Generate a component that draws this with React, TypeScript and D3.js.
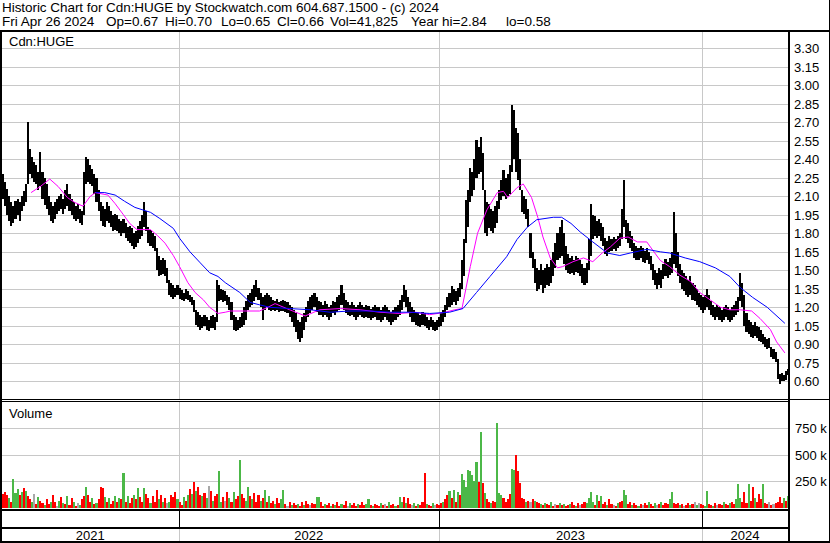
import * as d3 from "d3";

// ---- data ----
// one sample = 2 trading days, Apr 2021 .. Apr 26 2024
const priceHigh = [
  228,222,216,210,205,202,206,208,205,210, 214,220,270,248,242,238,235,230,246,230,
  225,220,210,205,202,205,208,210,212,208, 215,220,212,208,205,202,204,200,198,230,
  242,240,235,232,228,225,215,205,202,200, 205,202,198,195,196,195,192,190,192,188,
  185,186,184,180,182,186,190,195,205,198, 185,183,180,178,168,162,158,160,158,152,
  142,140,138,136,138,136,134,132,135,133, 130,128,126,118,116,114,112,114,112,110,
  113,114,112,142,138,135,134,133,130,128, 124,114,112,110,112,115,120,125,130,132,
  135,138,142,136,132,128,130,132,130,128, 126,125,127,124,125,126,125,124,122,120,
  118,115,110,108,112,115,120,125,128,130, 132,128,125,124,122,125,123,120,122,125,
  124,128,130,138,132,126,124,122,124,122, 120,122,124,122,120,122,121,119,120,122,
  120,120,118,120,122,120,118,116,118,120, 122,126,130,138,134,128,124,120,118,116,
  115,114,116,115,112,110,112,110,108,110, 112,115,118,122,128,132,137,135,133,136,
  140,158,175,207,215,233,230,240,256,250, 258,245,215,205,204,200,198,202,206,215,
  223,231,225,228,235,284,280,265,261,240, 215,210,208,200,180,165,159,152,150,155,
  150,152,155,153,158,165,172,180,185,191, 180,170,163,160,162,158,162,160,158,155,
  152,156,175,204,195,194,190,192,188,185, 176,174,178,175,177,175,178,180,200,223,
  191,188,182,178,172,170,168,170,168,166, 168,165,162,155,150,148,152,150,155,159,
  157,160,165,197,180,165,155,150,148,145, 142,145,140,138,135,132,130,128,130,135,
  130,125,122,120,122,120,118,120,122,120, 118,120,122,125,128,148,140,130,115,110,
  108,106,108,105,104,102,98,96,94,95, 88,86,84,78,66,67,65,68,70,
];
const priceLow = [
  208,202,195,190,186,188,192,195,190,198, 202,205,220,228,225,222,220,215,218,208,
  203,200,195,190,188,192,196,198,200,196, 200,202,198,195,192,190,192,188,187,195,
  220,222,220,218,212,205,198,190,186,185, 190,188,185,182,183,182,180,178,180,176,
  174,172,170,167,169,172,175,178,185,182, 172,170,168,166,150,145,146,147,145,140,
  130,128,127,128,130,127,126,125,127,126, 124,122,116,106,104,102,103,105,102,101,
  103,103,102,108,125,126,124,125,122,118, 110,102,101,102,103,104,106,110,118,120,
  122,125,128,126,120,110,118,120,118,117, 118,117,118,116,117,117,116,115,112,108,
  104,100,94,92,95,102,108,112,115,118, 120,116,114,114,112,114,112,110,112,115,
  114,116,118,122,118,115,114,113,114,112, 110,112,114,112,111,112,111,110,111,112,
  110,110,108,110,112,110,108,106,108,110, 112,114,118,124,120,116,112,108,108,106,
  105,104,106,105,103,102,104,102,101,102, 104,105,108,112,118,120,122,124,122,125,
  128,135,145,172,185,205,210,215,225,228, 230,215,180,178,184,182,180,184,188,200,
  207,210,208,210,212,230,240,230,223,215, 197,196,192,185,160,152,140,133,135,138,
  132,136,138,137,140,145,152,158,160,162, 155,150,148,147,148,146,149,148,145,140,
  138,140,150,162,175,178,176,178,174,170, 163,162,165,166,167,166,168,170,175,185,
  175,172,168,166,160,158,158,160,157,156, 158,155,150,142,138,135,138,136,143,145,
  144,146,148,155,152,145,140,135,133,130, 128,130,126,125,122,120,118,115,118,120,
  118,114,112,110,112,110,108,110,112,110, 108,110,112,114,116,125,120,105,100,98,
  96,95,97,95,93,92,90,88,86,87, 80,78,76,62,58,60,60,61,65,
];
// volume in thousands, per sample
const volumeK = [
  130,150,120,90,60,270,140,180,120,150, 190,160,110,80,60,130,40,100,70,50,
  30,80,40,60,120,60,20,70,100,50, 40,110,30,90,60,20,50,30,80,110,
  200,120,60,90,40,50,80,200,190,100, 60,90,40,70,110,60,90,80,330,60,
  110,50,90,120,80,190,100,60,190,130, 90,50,110,60,170,80,120,60,90,50,
  60,120,100,150,80,60,30,100,70,120, 180,130,240,160,200,120,110,140,90,210,
  160,70,110,130,350,60,100,70,150,90, 60,150,80,110,450,130,90,70,200,110,
  80,140,60,120,70,90,170,60,110,50, 70,40,90,50,80,170,40,20,60,30,
  50,30,40,20,60,30,70,40,30,50, 40,100,100,60,20,40,30,50,20,40,
  30,60,20,40,30,70,20,50,30,50, 20,40,30,60,30,40,80,30,20,40,
  30,20,50,30,40,20,60,30,40,20, 30,100,60,100,50,90,40,30,50,20,
  40,30,60,330,40,30,20,50,30,40, 30,50,60,85,120,160,90,170,60,150,
  120,320,260,200,357,350,310,250,435,245, 717,237,140,80,60,50,70,59,797,141,
  122,90,60,80,130,367,360,498,348,235, 90,80,60,70,60,80,70,60,50,40,
  30,50,40,30,60,20,40,30,50,30, 40,20,30,40,60,30,20,50,30,40,
  60,50,90,150,60,30,120,70,110,40, 60,30,80,40,30,20,50,60,70,170,
  120,40,60,30,50,30,20,40,30,50, 30,60,40,20,50,30,40,60,30,50,
  40,80,150,50,40,50,30,40,20,30, 50,30,40,60,30,50,40,30,20,160,
  40,30,20,50,30,40,30,60,40,30, 50,60,40,80,225,90,60,150,50,225,
  70,200,90,60,130,80,225,50,40,60, 30,40,50,60,100,50,90,70,110,
];
// g = up, r = down, n = unchanged
const volumeDir =
  "rrrgrgggrg" + "rgrrgnrgrr" + "grrgrrngrg" + "rgrrgrngrr" + "grrgrgrrrg" +
  "rgrrgrgrgr" + "grrgrgrrgr" + "rgrrrgrgrn" + "grrrgrrgrg" + "rgrgrrgrgn" +
  "rgrrggrnrg" + "rgrrgrrggr" + "grrrgrgrgr" + "rgrrggrnrg" + "rrgrrgrrnr" +
  "rggrrgrrgr" + "grrgrrngrr" + "rgrrrggrgr" + "rrgrnrgrrg" + "rggrgrrngr" +
  "grrrgrrgnr" + "rrgrrgrgrg" + "rggggggggr" + "grgrrgrrgg" + "grrrrggrrr" +
  "rrgrnrgrrg" + "rgrrgrnrgr" + "grrgrrgrnr" + "rggggrgrgr" + "rgrrnrgrrg" +
  "grrgrrgrnr" + "rgrrgnrgrr" + "rggrrrgrnr" + "rgrngnrrgg" + "rrgrnrrgrr" +
  "grrgggrrrg" + "rrgrrrgrrn" + "rnrrrrgrg";

// moving averages: [trading day, price]
const maShort = [
  [28,2.13],[37,2.18],[46,2.24],[54,2.18],[63,2.09],[70,2.05],[78,2.02],[85,2.10],[90,2.13],
  [102,2.11],[109,2.04],[117,1.95],[123,1.88],[130,1.83],[143,1.83],[150,1.78],[157,1.72],
  [165,1.62],[171,1.53],[179,1.40],[186,1.32],[194,1.26],[200,1.20],[208,1.15],[215,1.16],
  [220,1.17],[234,1.17],[248,1.17],[256,1.20],[263,1.23],[277,1.18],[292,1.13],[306,1.18],
  [326,1.19],[345,1.18],[364,1.16],[383,1.15],[398,1.16],[412,1.14],[427,1.16],[436,1.18],
  [443,1.19],[451,1.53],[458,1.80],[467,1.99],[477,2.13],[483,2.14],[487,2.09],[496,2.17],
  [502,2.20],[510,2.09],[516,1.93],[521,1.77],[528,1.60],[535,1.52],[540,1.53],[550,1.57],
  [560,1.60],[569,1.57],[578,1.64],[586,1.69],[595,1.76],[603,1.77],[612,1.73],[621,1.73],
  [627,1.66],[634,1.58],[643,1.53],[653,1.46],[663,1.41],[672,1.32],[682,1.26],[692,1.20],
  [701,1.18],[711,1.18],[722,1.17],[730,1.11],[740,1.02],[746,0.92],[754,0.83],
];
const maLong = [
  [90,2.13],[99,2.13],[109,2.11],[118,2.06],[128,2.01],[143,1.97],[152,1.92],[165,1.84],
  [171,1.76],[181,1.65],[191,1.56],[200,1.48],[208,1.45],[215,1.40],[229,1.32],[239,1.24],
  [248,1.22],[258,1.20],[277,1.19],[297,1.18],[316,1.16],[335,1.17],[354,1.17],[374,1.16],
  [393,1.16],[412,1.15],[431,1.16],[444,1.19],[457,1.32],[470,1.45],[486,1.61],[496,1.75],
  [506,1.85],[515,1.91],[531,1.93],[539,1.93],[548,1.88],[557,1.81],[569,1.73],[583,1.64],
  [595,1.62],[605,1.64],[621,1.67],[634,1.65],[643,1.64],[658,1.60],[672,1.57],[687,1.52],
  [701,1.45],[711,1.36],[723,1.28],[737,1.20],[754,1.07],
];

const priceTicks = [0.6, 0.75, 0.9, 1.05, 1.2, 1.35, 1.5, 1.65, 1.8, 1.95, 2.1, 2.25, 2.4, 2.55, 2.7, 2.85, 3.0, 3.15, 3.3];
const volumeTicks = [250, 500, 750];
const yearLabels = ["2021", "2022", "2023", "2024"];
const yearStartDays = [170, 421, 674]; // first trading day of 2022, 2023, 2024
const totalDays = 757;
const daysPerSample = 2;

const titleLine = "Historic Chart for Cdn:HUGE by Stockwatch.com 604.687.1500 - (c) 2024";
const statLine = ["Fri Apr 26 2024", "Op=0.67", "Hi=0.70", "Lo=0.65", "Cl=0.66", "Vol=41,825", "Year hi=2.84", "lo=0.58"];

// ---- layout ----
const W = 830;
const H = 543;
const plotL = 2;
const plotR = 788;
const statX = [2, 106, 165, 221, 277, 330, 411, 506];
const font = "'Liberation Sans', Arial, sans-serif";
const grid = "#c8c8c8";
const volColor = { g: "#4cb848", r: "#ff0000", n: "#a8a8a8" };

export default function App() {
  const x = d3.scaleLinear().domain([0, totalDays]).range([plotL, plotR]);
  const y = d3.scaleLinear().domain([0.6, 3.3]).range([381.3, 48.3]);
  const yv = d3.scaleLinear().domain([0, 750]).range([508, 428.3]);

  const line = d3
    .line<number[]>()
    .x((d) => x(d[0]))
    .y((d) => y(d[1]));

  const bounds = [0, ...yearStartDays, totalDays];

  return (
    <svg
      width={W}
      height={H}
      style={{ position: "absolute", left: 0, top: 0, background: "#fff" }}
      fontFamily={font}
      fontSize={13}
    >
      <rect width={W} height={H} fill="#fff" />

      {/* header */}
      <text x={2} y={12} fontSize={13.5} textLength={437} lengthAdjust="spacing">
        {titleLine}
      </text>
      {statLine.map((s, i) => (
        <text key={s} x={statX[i]} y={26} fontSize={13.5}>
          {s}
        </text>
      ))}

      {/* gridlines */}
      <g shapeRendering="crispEdges" stroke={grid}>
        {priceTicks.map((t) => (
          <line key={t} x1={plotL} x2={plotR} y1={Math.round(y(t)) + 0.5} y2={Math.round(y(t)) + 0.5} />
        ))}
        {volumeTicks.map((t) => (
          <line key={t} x1={plotL} x2={plotR} y1={Math.round(yv(t)) + 0.5} y2={Math.round(yv(t)) + 0.5} />
        ))}
        {yearStartDays.map((d) => {
          const xx = Math.round(x(d)) + 0.5;
          return (
            <g key={d}>
              <line x1={xx} x2={xx} y1={32} y2={399} />
              <line x1={xx} x2={xx} y1={402} y2={509} />
              <line x1={xx} x2={xx} y1={529} y2={541} />
            </g>
          );
        })}
      </g>

      {/* price bars */}
      <g shapeRendering="crispEdges" fill="#000">
        {priceHigh.map((h, i) => {
          const x0 = Math.round(x(i * daysPerSample));
          const x1 = Math.round(x((i + 1) * daysPerSample));
          const top = y(h / 100);
          const bot = y(priceLow[i] / 100);
          return <rect key={i} x={x0} width={Math.max(1, x1 - x0)} y={top} height={Math.max(1, bot - top)} />;
        })}
      </g>

      {/* moving averages */}
      <path d={line(maShort) ?? ""} fill="none" stroke="#ff00ff" strokeWidth={1} />
      <path d={line(maLong) ?? ""} fill="none" stroke="#0000ff" strokeWidth={1} />

      {/* volume bars */}
      <g shapeRendering="crispEdges">
        {volumeK.map((v, i) => {
          const x0 = Math.round(x(i * daysPerSample));
          const x1 = Math.round(x((i + 1) * daysPerSample));
          const top = yv(v);
          return (
            <rect
              key={i}
              x={x0}
              width={Math.max(1, x1 - x0)}
              y={top}
              height={508 - top}
              fill={volColor[volumeDir[i] as "g" | "r" | "n"]}
            />
          );
        })}
      </g>

      {/* frame */}
      <g shapeRendering="crispEdges" fill="#000">
        <rect x={0} y={30} width={W} height={2} />
        <rect x={0} y={30} width={2} height={H - 30} />
        <rect x={plotR} y={30} width={2} height={H - 30} />
        <rect x={W - 1} y={0} width={1} height={H} />
        <rect x={0} y={399} width={W} height={1} />
        <rect x={0} y={401} width={plotR} height={1} />
        <rect x={0} y={509} width={plotR} height={2} />
        <rect x={0} y={527} width={plotR} height={2} />
        <rect x={0} y={541} width={W} height={2} />
        {yearStartDays.map((d) => (
          <rect key={d} x={Math.round(x(d))} y={511} width={1} height={16} />
        ))}
      </g>

      {/* axis labels */}
      {priceTicks.map((t) => (
        <text key={t} x={794} y={Math.round(y(t)) + 5}>
          {t.toFixed(2)}
        </text>
      ))}
      {volumeTicks.map((t) => (
        <text key={t} x={795} y={Math.round(yv(t)) + 5}>
          {t} k
        </text>
      ))}
      <text x={9} y={46}>
        Cdn:HUGE
      </text>
      <text x={9} y={418}>
        Volume
      </text>
      {yearLabels.map((lbl, i) => (
        <text key={lbl} x={(x(bounds[i]) + x(bounds[i + 1])) / 2} y={540} textAnchor="middle">
          {lbl}
        </text>
      ))}
    </svg>
  );
}
